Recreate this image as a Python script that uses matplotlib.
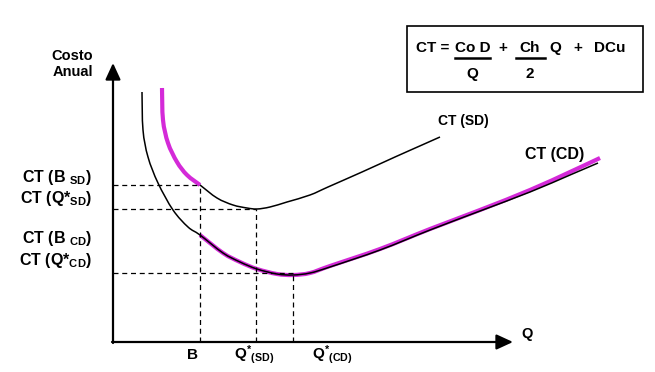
import matplotlib
matplotlib.use('Agg')
import matplotlib.pyplot as plt
import matplotlib.font_manager as font_manager
from matplotlib.patches import Rectangle, PathPatch
from matplotlib.path import Path

#
#--- curve points (Q, annual cost), origin at the axes corner
#
sd_q      = [49, 50, 55, 64, 74, 87, 104, 120, 134, 144, 157, 174, 197, 215, 249, 282, 309, 327]
sd_c      = [254, 222, 199, 180, 167, 157, 144, 137, 134, 133, 135, 140, 147, 155, 170, 185, 197, 205]

sd_pink_q = [49, 50, 55, 64, 74, 87]
sd_pink_c = [254, 222, 199, 180, 167, 157]

cd_q      = [29, 30, 35, 45, 60, 75, 87, 110, 127, 144, 164, 180, 197, 217, 267, 317, 367, 417, 457, 485]
cd_c      = [250, 212, 185, 159, 132, 115, 107, 89, 80, 73, 68, 67, 69, 75, 92, 112, 131, 150, 167, 179]

cd_pink_q = [87, 110, 127, 144, 164, 180, 197, 217, 267, 317, 367, 417, 457, 487]
cd_pink_c = [107, 89, 80, 73, 68, 67, 69, 76, 93, 113, 132, 152, 170, 184]

#
#--- reference levels
#
b_q      = 87
qsd_q    = 143
qcd_q    = 180
ct_b_sd  = 157
ct_q_sd  = 133
ct_q_cd  = 69

y_labels    = [r'CT (B $_{\rm SD}$)', r'CT (Q*$_{\rm SD}$)', r'CT (B $_{\rm CD}$)', r'CT (Q*$_{\rm CD}$)']
y_label_pos = [160, 139, 99, 77]
x_labels    = ['B', r'Q$^{*}$$_{\rm (SD)}$', r'Q$^{*}$$_{\rm (CD)}$']
x_label_pos = [79, 141, 219]

#-------------------------------------------------------------------------------------
#--- smooth_path: pass a smooth bezier path through the points                      ---
#-------------------------------------------------------------------------------------

def smooth_path(xs, ys):
    pts   = list(zip(xs, ys))
    n     = len(pts)
    verts = [pts[0]]
    codes = [Path.MOVETO]
    for i in range(n - 1):
        p0 = pts[max(i - 1, 0)]
        p1 = pts[i]
        p2 = pts[i + 1]
        p3 = pts[min(i + 2, n - 1)]
        c1 = (p1[0] + (p2[0] - p0[0]) / 6.0, p1[1] + (p2[1] - p0[1]) / 6.0)
        c2 = (p2[0] - (p3[0] - p1[0]) / 6.0, p2[1] - (p3[1] - p1[1]) / 6.0)
        verts += [c1, c2, p2]
        codes += [Path.CURVE4] * 3
    return Path(verts, codes)

def draw_curve(ax, xs, ys, color, lw):
    ax.add_patch(PathPatch(smooth_path(xs, ys), fill=False, edgecolor=color, lw=lw, capstyle='butt'))

plt.rcParams['font.family'] = ['Liberation Sans', 'DejaVu Sans']
plt.rcParams['font.weight'] = 'bold'
plt.rcParams['mathtext.fontset'] = 'custom'
plt.rcParams['mathtext.rm'] = 'Liberation Sans:bold'
plt.rcParams['mathtext.it'] = 'Liberation Sans:bold'
plt.rcParams['mathtext.bf'] = 'Liberation Sans:bold'

fig = plt.figure(figsize=(6.55, 3.72), dpi=100)
ax = fig.add_axes([0, 0, 1, 1])
ax.set_xlim(-113, 542)
ax.set_ylim(-30, 342)
ax.axis('off')

pink = '#D42AD8'
#
#--- dashed guide lines
#
dkw = dict(color='black', lw=0.9, dashes=(4, 3))
ax.plot([0, b_q], [ct_b_sd, ct_b_sd], **dkw)
ax.plot([0, qsd_q], [ct_q_sd, ct_q_sd], **dkw)
ax.plot([0, qcd_q], [ct_q_cd, ct_q_cd], **dkw)
ax.plot([b_q, b_q], [0, ct_b_sd], **dkw)
ax.plot([qsd_q, qsd_q], [0, ct_q_sd], **dkw)
ax.plot([qcd_q, qcd_q], [0, ct_q_cd - 2], **dkw)
#
#--- cost curves
#
draw_curve(ax, cd_pink_q, cd_pink_c, pink, 3.0)
draw_curve(ax, sd_q, sd_c, 'black', 1.1)
draw_curve(ax, cd_q, cd_c, 'black', 1.1)
draw_curve(ax, sd_pink_q, sd_pink_c, pink, 3.0)
#
#--- axes with arrows
#
akw = dict(arrowstyle='-|>,head_length=0.5,head_width=0.23', lw=1.6, color='black',
           mutation_scale=20, shrinkA=0, shrinkB=0)
ax.annotate('', xy=(0, 279), xytext=(0, -1), arrowprops=akw)
ax.annotate('', xy=(400, 0), xytext=(-1, 0), arrowprops=akw)

ax.text(-20, 282, 'Costo', ha='right', va='baseline', fontsize=10.5, fontweight='bold')
ax.text(-20, 266, 'Anual', ha='right', va='baseline', fontsize=10.5, fontweight='bold')
ax.text(414, 4, 'Q', ha='center', va='baseline', fontsize=10.5, fontweight='bold')

for lab, y in zip(y_labels, y_label_pos):
    ax.text(-21, y, lab, ha='right', va='baseline', fontsize=11.5, fontweight='bold')
for lab, x in zip(x_labels, x_label_pos):
    ax.text(x, -17, lab, ha='center', va='baseline', fontsize=11, fontweight='bold')

ax.text(350, 217, 'CT (SD)', ha='center', va='baseline', fontsize=10, fontweight='bold')
ax.text(442, 183, 'CT (CD)', ha='center', va='baseline', fontsize=11.5, fontweight='bold')
#
#--- formula box
#
names = set(f.name for f in font_manager.fontManager.ttflist)
if 'Liberation Sans Narrow' in names:
    ff  = 'Liberation Sans Narrow'
    fsz = 13
else:
    ff  = 'Liberation Sans'
    fsz = 11

ax.add_patch(Rectangle((294, 250), 236, 66, fill=False, lw=1.2, edgecolor='black'))
fkw = dict(ha='center', va='baseline', fontsize=fsz, fontweight='bold', family=ff)
ax.text(320, 290, 'CT =', **fkw)
ax.text(360, 290, 'Co D', **fkw)
ax.plot([342, 377], [284, 284], color='black', lw=1.8)
ax.text(359, 264, 'Q', **fkw)
ax.text(390, 290, '+', **fkw)
ax.text(417, 290, 'Ch', **fkw)
ax.plot([403, 432], [284, 284], color='black', lw=1.8)
ax.text(417, 264, '2', **fkw)
ax.text(442, 290, 'Q', **fkw)
ax.text(465, 290, '+', **fkw)
ax.text(497, 290, 'DCu', **fkw)

plt.savefig('out.png', dpi=100)
